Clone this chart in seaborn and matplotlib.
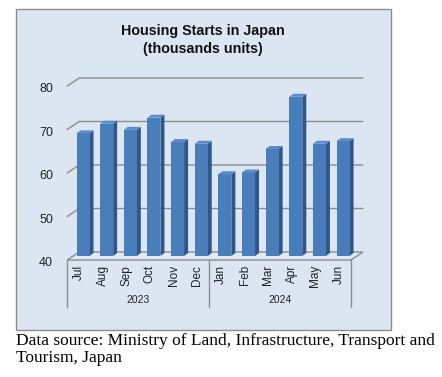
import matplotlib
matplotlib.use("Agg")
import matplotlib.pyplot as plt
import matplotlib.transforms as mtransforms
from matplotlib.patches import Polygon, Rectangle
from matplotlib.lines import Line2D
import seaborn as sns
import pandas as pd

months = ["Jul", "Aug", "Sep", "Oct", "Nov", "Dec",
          "Jan", "Feb", "Mar", "Apr", "May", "Jun"]
years = ["2023", "2024"]
starts = [68.2, 70.4, 69.0, 71.8, 66.2, 65.8,
          58.8, 59.2, 64.6, 76.6, 65.8, 66.4]
yticks = [40, 50, 60, 70, 80]
title = "Housing Starts in Japan\n(thousands units)"
source = "Data source: Ministry of Land, Infrastructure, Transport and\nTourism, Japan"

sns.set_theme(style="white")
plt.rcParams["font.family"] = ["Liberation Sans", "DejaVu Sans"]

W, H = 442, 377
DPI = 100
fig = plt.figure(figsize=(W / DPI, H / DPI), dpi=DPI)
fig.patch.set_facecolor("white")

def fx(px):
    return px / W

def fy(py):
    return 1 - py / H

# chart area box
fig.add_artist(Rectangle((fx(16), fy(330)), fx(391) - fx(16), fy(9) - fy(330),
                         transform=fig.transFigure, facecolor="#dce6f2",
                         edgecolor="#8c8c8c", linewidth=1.0, zorder=-5))

# axes = plane of bar front faces
ax_l, ax_r, ax_b, ax_t = 71.2, 354.9, 256, 82
ax = fig.add_axes([fx(ax_l), fy(ax_b), fx(ax_r) - fx(ax_l), fy(ax_t) - fy(ax_b)])
ax.patch.set_alpha(0)

df = pd.DataFrame({"month": months, "starts": starts})
sns.barplot(data=df, x="month", y="starts", order=months, color="#4a7ebb",
            saturation=1, width=0.55, ax=ax, linewidth=0, zorder=3)
ax.set_xlim(-0.5, len(months) - 0.5)
ax.set_ylim(yticks[0], yticks[-1])
for s in ax.spines.values():
    s.set_visible(False)
ax.set_xlabel("")
ax.set_ylabel("")

ident = mtransforms.IdentityTransform()
FRONT = (-4, -4)   # pixel offset of front plane (x right, y up)
BACK = (8, 4)      # pixel offset of back wall
BD = (4, 3)        # bar depth offset

def P(x, y, off=(0, 0)):
    X, Y = ax.transData.transform((x, y))
    return (X + off[0] * DPI / 100, Y + off[1] * DPI / 100)

x0, x1 = -0.5, len(months) - 0.5
ymin = yticks[0]

# floor
floor = [P(x0, ymin, FRONT), P(x1, ymin, FRONT), P(x1, ymin, BACK), P(x0, ymin, BACK)]
fig.add_artist(Polygon(floor, closed=True, transform=ident, facecolor="#e0e9f4",
                       edgecolor="#8c8c8c", linewidth=1.0, zorder=-1))
# gridlines
for v in yticks[1:]:
    a, b, c = P(x0, v, FRONT), P(x0, v, BACK), P(x1, v, BACK)
    fig.add_artist(Line2D([a[0], b[0], c[0]], [a[1], b[1], c[1]], transform=ident,
                          color="#8c8c8c", linewidth=1.0, zorder=-1))

# 3D faces of bars
for bar in ax.patches:
    bx, bw, bh = bar.get_x(), bar.get_width(), bar.get_height()
    side = [P(bx + bw, ymin), P(bx + bw, bh), P(bx + bw, bh, BD), P(bx + bw, ymin, BD)]
    top = [P(bx, bh), P(bx + bw, bh), P(bx + bw, bh, BD), P(bx, bh, BD)]
    ax.add_patch(Polygon(side, closed=True, transform=ident, facecolor="#30578a",
                         edgecolor="none", zorder=2, clip_on=False))
    ax.add_patch(Polygon(top, closed=True, transform=ident, facecolor="#5b8ccb",
                         edgecolor="none", zorder=4, clip_on=False))

# y tick labels
ax.set_yticks(yticks)
ax.set_yticklabels([str(t) for t in yticks], fontsize=9, color="#222222")
ax.tick_params(axis="y", length=0, pad=13)
for lab in ax.get_yticklabels():
    lab.set_transform(lab.get_transform() + mtransforms.ScaledTranslation(0, -6 / DPI, fig.dpi_scale_trans))

# month labels
ax.set_xticks(range(len(months)))
ax.set_xticklabels(months, rotation=90, fontsize=8.5, color="#222222")
ax.tick_params(axis="x", length=0, pad=6.5)
for lab in ax.get_xticklabels():
    lab.set_transform(lab.get_transform() + mtransforms.ScaledTranslation(-4 / DPI, 0, fig.dpi_scale_trans))

# multi-level category separators and year labels
for xb in [x0, x0 + 6, x1]:
    a = P(xb, ymin, FRONT)
    fig.add_artist(Line2D([a[0], a[0]], [a[1], a[1] - 47], transform=ident,
                          color="#8c8c8c", linewidth=1.0, zorder=1))
for i, yr in enumerate(years):
    a = P(x0 + 6 * i + 3, ymin, FRONT)
    fig.text(a[0] / W, (a[1] - 40) / H, yr, ha="center", va="center",
             fontsize=7.5, color="#222222")

fig.text(fx(203), fy(40), title, ha="center", va="center", fontsize=10.3,
         fontweight="bold", linespacing=1.3, color="#111111")
fig.text(fx(16), fy(333), source, ha="left", va="top", fontsize=12.5,
         family=["Liberation Serif", "DejaVu Serif"], linespacing=1.12, color="black")

fig.savefig("out.png", dpi=DPI)
